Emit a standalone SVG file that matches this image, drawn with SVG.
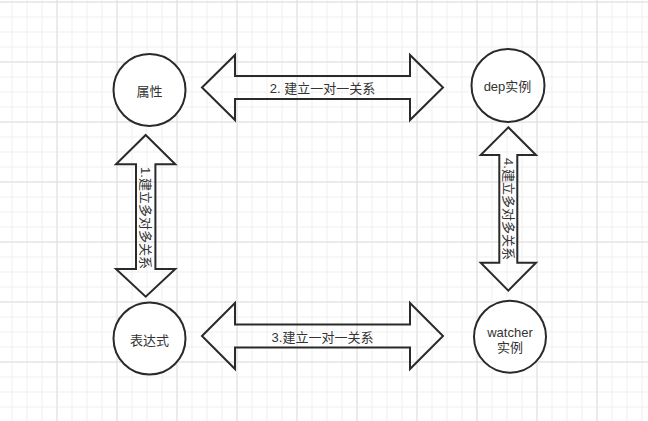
<svg xmlns="http://www.w3.org/2000/svg" width="648" height="421" viewBox="0 0 648 421">
  <defs>
    <pattern id="minor" patternUnits="userSpaceOnUse" x="11.5" y="1.5" width="15" height="15">
      <path d="M0.5,0 V15 M0,0.5 H15" stroke="#efefef" stroke-width="1" fill="none"/>
    </pattern>
    <pattern id="major" patternUnits="userSpaceOnUse" x="56.5" y="1.5" width="60" height="60">
      <path d="M0.5,0 V60 M0,0.5 H60" stroke="#dedede" stroke-width="1" fill="none"/>
    </pattern>
    <style>
      .node circle { fill: #ffffff; stroke: #2a2a2a; stroke-width: 2; }
      .arrow { fill: none; stroke: #2a2a2a; stroke-width: 2; stroke-linejoin: miter; }
      text { font-family: "Liberation Sans", "Noto Sans CJK SC", sans-serif; font-size: 13px; fill: #333333; text-anchor: middle; dominant-baseline: central; }
    </style>
  </defs>
  <rect width="648" height="421" fill="#ffffff"/>
  <rect width="648" height="421" fill="url(#minor)"/>
  <rect width="648" height="421" fill="url(#major)"/>

  <g id="connectors">
    <g id="edge-2">
      <path class="arrow" d="M202,87.5 L235,55 L235,76 L410,76 L410,55 L443,87.5 L410,120 L410,99 L235,99 L235,120 Z"/>
      <text x="322.5" y="88">2. 建立一对一关系</text>
    </g>
    <g id="edge-3">
      <path class="arrow" d="M202,336 L235,303 L235,324.5 L410,324.5 L410,303 L443,336 L410,369 L410,347.5 L235,347.5 L235,369 Z"/>
      <text x="322.5" y="337">3.建立一对一关系</text>
    </g>
    <g id="edge-1">
      <path class="arrow" d="M145.7,135 L175.3,164.3 L155.4,164.3 L155.4,269 L175.3,269 L145.7,296.7 L116,269 L136,269 L136,164.3 L116,164.3 Z"/>
      <text x="145.5" y="218" transform="rotate(90 145.5 218)">1.建立多对多关系</text>
    </g>
    <g id="edge-4">
      <path class="arrow" d="M508.3,127.3 L536,155 L517.3,155 L517.3,262.7 L536,262.7 L508.3,290.7 L480.7,262.7 L499.3,262.7 L499.3,155 L480.7,155 Z"/>
      <text x="508.3" y="209" transform="rotate(90 508.3 209)">4.建立多对多关系</text>
    </g>
  </g>

  <g id="node-attr" class="node">
    <circle cx="149.5" cy="90" r="36"/>
    <text x="149.5" y="91.5">属性</text>
  </g>
  <g id="node-dep" class="node">
    <circle cx="508" cy="85.5" r="36.5"/>
    <text x="507.5" y="86">dep实例</text>
  </g>
  <g id="node-expr" class="node">
    <circle cx="149.5" cy="338.5" r="36"/>
    <text x="149.5" y="340">表达式</text>
  </g>
  <g id="node-watcher" class="node">
    <circle cx="510" cy="336.7" r="36"/>
    <text x="510" y="332">watcher</text>
    <text x="510" y="347.5">实例</text>
  </g>
</svg>
